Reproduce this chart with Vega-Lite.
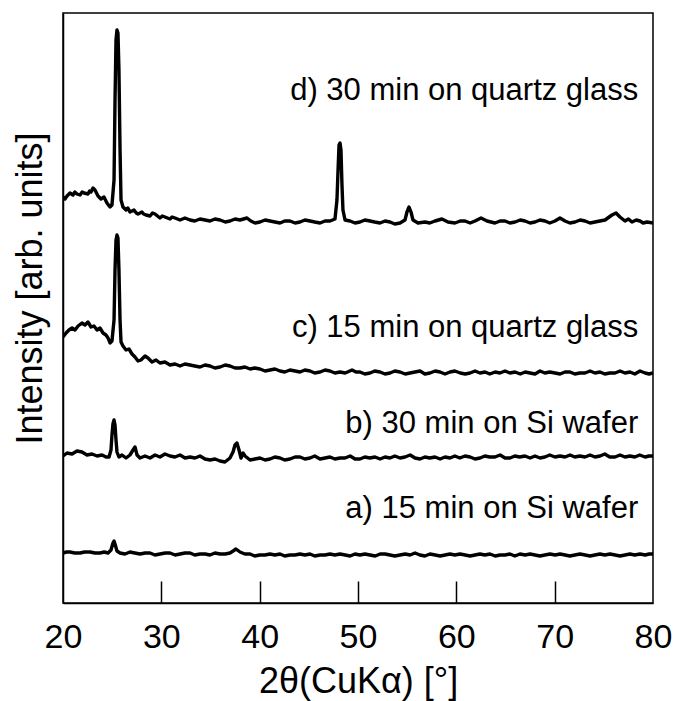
{
  "$schema": "https://vega.github.io/schema/vega-lite/v6.json",
  "width": 590,
  "height": 590,
  "autosize": "none",
  "padding": {"left": 63, "top": 13, "right": 21, "bottom": 98},
  "background": "white",
  "config": {
    "font": "Liberation Sans",
    "view": {"stroke": "black", "strokeWidth": 1.5},
    "axis": {"domainColor": "black", "domainWidth": 1.5, "tickColor": "black", "labelColor": "black", "titleColor": "black", "titleFontWeight": "normal", "grid": false}
  },
  "resolve": {"axis": {"x": "independent"}},
  "datasets": {
    "traces": [
      {"s":"d","x":20.00,"y":406},{"s":"d","x":20.20,"y":404},{"s":"d","x":20.41,"y":407},{"s":"d","x":20.71,"y":410},{"s":"d","x":21.02,"y":408},{"s":"d","x":21.20,"y":411},{"s":"d","x":21.42,"y":409},{"s":"d","x":21.73,"y":408},{"s":"d","x":21.95,"y":411},{"s":"d","x":22.14,"y":410},{"s":"d","x":22.54,"y":409},{"s":"d","x":22.70,"y":412},{"s":"d","x":22.85,"y":411},{"s":"d","x":23.05,"y":415},{"s":"d","x":23.25,"y":413},{"s":"d","x":23.56,"y":407},{"s":"d","x":23.86,"y":404},{"s":"d","x":24.17,"y":406},{"s":"d","x":24.47,"y":400},{"s":"d","x":24.78,"y":396},{"s":"d","x":24.98,"y":398},{"s":"d","x":25.19,"y":423},{"s":"d","x":25.29,"y":503},{"s":"d","x":25.39,"y":563},{"s":"d","x":25.49,"y":573},{"s":"d","x":25.59,"y":570},{"s":"d","x":25.69,"y":533},{"s":"d","x":25.80,"y":453},{"s":"d","x":25.90,"y":403},{"s":"d","x":26.10,"y":396},{"s":"d","x":26.41,"y":393},{"s":"d","x":26.60,"y":395},{"s":"d","x":26.81,"y":391},{"s":"d","x":27.22,"y":393},{"s":"d","x":27.45,"y":390},{"s":"d","x":27.63,"y":389},{"s":"d","x":28.03,"y":391},{"s":"d","x":28.20,"y":389},{"s":"d","x":28.44,"y":388},{"s":"d","x":28.85,"y":387},{"s":"d","x":29.10,"y":390},{"s":"d","x":29.36,"y":389},{"s":"d","x":29.86,"y":385},{"s":"d","x":30.10,"y":387},{"s":"d","x":30.37,"y":386},{"s":"d","x":30.88,"y":384},{"s":"d","x":31.10,"y":386},{"s":"d","x":31.39,"y":385},{"s":"d","x":31.90,"y":383},{"s":"d","x":32.40,"y":385},{"s":"d","x":32.92,"y":383},{"s":"d","x":33.40,"y":382},{"s":"d","x":33.93,"y":384},{"s":"d","x":34.45,"y":383},{"s":"d","x":34.95,"y":382},{"s":"d","x":35.45,"y":384},{"s":"d","x":35.97,"y":383},{"s":"d","x":36.50,"y":381},{"s":"d","x":36.98,"y":382},{"s":"d","x":37.50,"y":384},{"s":"d","x":38.00,"y":383},{"s":"d","x":38.71,"y":385},{"s":"d","x":39.10,"y":382},{"s":"d","x":39.53,"y":380},{"s":"d","x":40.03,"y":381},{"s":"d","x":40.55,"y":383},{"s":"d","x":41.05,"y":382},{"s":"d","x":41.55,"y":381},{"s":"d","x":42.07,"y":380},{"s":"d","x":42.55,"y":382},{"s":"d","x":43.08,"y":382},{"s":"d","x":43.60,"y":380},{"s":"d","x":44.10,"y":381},{"s":"d","x":44.60,"y":383},{"s":"d","x":45.12,"y":382},{"s":"d","x":45.60,"y":381},{"s":"d","x":46.14,"y":380},{"s":"d","x":46.65,"y":382},{"s":"d","x":47.15,"y":382},{"s":"d","x":47.66,"y":384},{"s":"d","x":47.86,"y":403},{"s":"d","x":47.97,"y":433},{"s":"d","x":48.07,"y":458},{"s":"d","x":48.17,"y":460},{"s":"d","x":48.27,"y":453},{"s":"d","x":48.37,"y":418},{"s":"d","x":48.47,"y":393},{"s":"d","x":48.68,"y":383},{"s":"d","x":49.19,"y":382},{"s":"d","x":49.70,"y":380},{"s":"d","x":50.20,"y":381},{"s":"d","x":50.70,"y":383},{"s":"d","x":51.22,"y":382},{"s":"d","x":51.70,"y":381},{"s":"d","x":52.24,"y":380},{"s":"d","x":52.75,"y":382},{"s":"d","x":53.25,"y":381},{"s":"d","x":53.75,"y":379},{"s":"d","x":54.27,"y":380},{"s":"d","x":54.78,"y":383},{"s":"d","x":54.98,"y":391},{"s":"d","x":55.19,"y":396},{"s":"d","x":55.39,"y":391},{"s":"d","x":55.59,"y":383},{"s":"d","x":56.10,"y":380},{"s":"d","x":56.81,"y":381},{"s":"d","x":57.30,"y":380},{"s":"d","x":57.83,"y":382},{"s":"d","x":58.54,"y":384},{"s":"d","x":59.15,"y":381},{"s":"d","x":59.86,"y":380},{"s":"d","x":60.40,"y":382},{"s":"d","x":60.88,"y":382},{"s":"d","x":61.40,"y":380},{"s":"d","x":61.90,"y":382},{"s":"d","x":62.51,"y":385},{"s":"d","x":63.12,"y":382},{"s":"d","x":63.93,"y":380},{"s":"d","x":64.45,"y":382},{"s":"d","x":64.95,"y":382},{"s":"d","x":65.45,"y":380},{"s":"d","x":65.97,"y":381},{"s":"d","x":66.50,"y":383},{"s":"d","x":66.98,"y":382},{"s":"d","x":67.50,"y":380},{"s":"d","x":68.00,"y":381},{"s":"d","x":68.50,"y":383},{"s":"d","x":69.02,"y":382},{"s":"d","x":69.50,"y":380},{"s":"d","x":70.03,"y":382},{"s":"d","x":70.54,"y":385},{"s":"d","x":71.05,"y":382},{"s":"d","x":71.55,"y":380},{"s":"d","x":72.07,"y":381},{"s":"d","x":72.60,"y":383},{"s":"d","x":73.08,"y":382},{"s":"d","x":73.60,"y":380},{"s":"d","x":74.10,"y":381},{"s":"d","x":74.60,"y":382},{"s":"d","x":75.12,"y":383},{"s":"d","x":75.83,"y":388},{"s":"d","x":76.24,"y":390},{"s":"d","x":76.64,"y":386},{"s":"d","x":77.15,"y":382},{"s":"d","x":77.50,"y":384},{"s":"d","x":77.86,"y":381},{"s":"d","x":78.30,"y":383},{"s":"d","x":78.68,"y":382},{"s":"d","x":79.00,"y":380},{"s":"d","x":79.39,"y":381},{"s":"d","x":80.00,"y":380},

      {"s":"c","x":20.00,"y":266},{"s":"c","x":20.31,"y":270},{"s":"c","x":20.61,"y":273},{"s":"c","x":20.92,"y":275},{"s":"c","x":21.22,"y":273},{"s":"c","x":21.53,"y":277},{"s":"c","x":21.93,"y":280},{"s":"c","x":22.24,"y":278},{"s":"c","x":22.54,"y":281},{"s":"c","x":22.85,"y":276},{"s":"c","x":23.15,"y":277},{"s":"c","x":23.46,"y":273},{"s":"c","x":23.76,"y":275},{"s":"c","x":24.07,"y":270},{"s":"c","x":24.37,"y":268},{"s":"c","x":24.58,"y":265},{"s":"c","x":24.78,"y":260},{"s":"c","x":24.98,"y":262},{"s":"c","x":25.19,"y":283},{"s":"c","x":25.29,"y":333},{"s":"c","x":25.39,"y":363},{"s":"c","x":25.49,"y":368},{"s":"c","x":25.59,"y":365},{"s":"c","x":25.69,"y":333},{"s":"c","x":25.80,"y":283},{"s":"c","x":25.90,"y":261},{"s":"c","x":26.10,"y":257},{"s":"c","x":26.41,"y":253},{"s":"c","x":26.71,"y":254},{"s":"c","x":27.02,"y":249},{"s":"c","x":27.32,"y":246},{"s":"c","x":27.63,"y":242},{"s":"c","x":27.93,"y":243},{"s":"c","x":28.34,"y":247},{"s":"c","x":28.64,"y":245},{"s":"c","x":29.05,"y":241},{"s":"c","x":29.46,"y":243},{"s":"c","x":29.86,"y":240},{"s":"c","x":30.37,"y":241},{"s":"c","x":30.88,"y":238},{"s":"c","x":31.39,"y":239},{"s":"c","x":31.90,"y":237},{"s":"c","x":32.40,"y":239},{"s":"c","x":32.92,"y":238},{"s":"c","x":33.40,"y":237},{"s":"c","x":33.93,"y":236},{"s":"c","x":34.45,"y":238},{"s":"c","x":34.95,"y":237},{"s":"c","x":35.45,"y":235},{"s":"c","x":35.97,"y":236},{"s":"c","x":36.50,"y":238},{"s":"c","x":36.98,"y":237},{"s":"c","x":37.50,"y":235},{"s":"c","x":38.00,"y":235},{"s":"c","x":38.50,"y":236},{"s":"c","x":39.02,"y":234},{"s":"c","x":39.50,"y":235},{"s":"c","x":40.03,"y":234},{"s":"c","x":40.55,"y":232},{"s":"c","x":41.05,"y":233},{"s":"c","x":41.55,"y":234},{"s":"c","x":42.07,"y":232},{"s":"c","x":42.55,"y":231},{"s":"c","x":43.08,"y":233},{"s":"c","x":43.60,"y":232},{"s":"c","x":44.10,"y":231},{"s":"c","x":44.60,"y":233},{"s":"c","x":45.12,"y":232},{"s":"c","x":45.60,"y":230},{"s":"c","x":46.14,"y":231},{"s":"c","x":46.65,"y":233},{"s":"c","x":47.15,"y":232},{"s":"c","x":47.65,"y":230},{"s":"c","x":48.17,"y":231},{"s":"c","x":48.70,"y":230},{"s":"c","x":49.39,"y":233},{"s":"c","x":49.80,"y":231},{"s":"c","x":50.20,"y":231},{"s":"c","x":50.70,"y":229},{"s":"c","x":51.22,"y":230},{"s":"c","x":51.70,"y":232},{"s":"c","x":52.24,"y":231},{"s":"c","x":52.75,"y":229},{"s":"c","x":53.25,"y":230},{"s":"c","x":53.75,"y":232},{"s":"c","x":54.27,"y":231},{"s":"c","x":54.80,"y":229},{"s":"c","x":55.29,"y":230},{"s":"c","x":55.80,"y":231},{"s":"c","x":56.31,"y":232},{"s":"c","x":56.80,"y":229},{"s":"c","x":57.32,"y":230},{"s":"c","x":57.85,"y":232},{"s":"c","x":58.34,"y":231},{"s":"c","x":58.85,"y":229},{"s":"c","x":59.35,"y":231},{"s":"c","x":59.86,"y":232},{"s":"c","x":60.40,"y":230},{"s":"c","x":60.90,"y":229},{"s":"c","x":61.39,"y":230},{"s":"c","x":61.90,"y":232},{"s":"c","x":62.40,"y":230},{"s":"c","x":62.92,"y":231},{"s":"c","x":63.40,"y":229},{"s":"c","x":63.95,"y":231},{"s":"c","x":64.44,"y":230},{"s":"c","x":64.95,"y":232},{"s":"c","x":65.45,"y":230},{"s":"c","x":65.97,"y":231},{"s":"c","x":66.50,"y":229},{"s":"c","x":67.00,"y":231},{"s":"c","x":67.49,"y":230},{"s":"c","x":68.00,"y":229},{"s":"c","x":68.51,"y":232},{"s":"c","x":69.00,"y":230},{"s":"c","x":69.50,"y":231},{"s":"c","x":70.03,"y":230},{"s":"c","x":70.55,"y":229},{"s":"c","x":71.05,"y":231},{"s":"c","x":71.56,"y":231},{"s":"c","x":72.05,"y":229},{"s":"c","x":72.55,"y":230},{"s":"c","x":73.08,"y":230},{"s":"c","x":73.60,"y":232},{"s":"c","x":74.10,"y":230},{"s":"c","x":74.61,"y":231},{"s":"c","x":75.10,"y":229},{"s":"c","x":75.60,"y":230},{"s":"c","x":76.14,"y":230},{"s":"c","x":76.65,"y":232},{"s":"c","x":77.15,"y":230},{"s":"c","x":77.66,"y":231},{"s":"c","x":78.15,"y":229},{"s":"c","x":78.68,"y":232},{"s":"c","x":79.20,"y":230},{"s":"c","x":79.60,"y":229},{"s":"c","x":80.00,"y":230},

      {"s":"b","x":20.00,"y":147},{"s":"b","x":20.41,"y":150},{"s":"b","x":20.92,"y":149},{"s":"b","x":21.42,"y":152},{"s":"b","x":21.93,"y":151},{"s":"b","x":22.44,"y":148},{"s":"b","x":22.95,"y":149},{"s":"b","x":23.46,"y":147},{"s":"b","x":23.97,"y":148},{"s":"b","x":24.37,"y":146},{"s":"b","x":24.68,"y":146},{"s":"b","x":24.88,"y":153},{"s":"b","x":24.98,"y":168},{"s":"b","x":25.08,"y":179},{"s":"b","x":25.19,"y":183},{"s":"b","x":25.29,"y":178},{"s":"b","x":25.39,"y":163},{"s":"b","x":25.49,"y":151},{"s":"b","x":25.69,"y":146},{"s":"b","x":26.00,"y":148},{"s":"b","x":26.41,"y":145},{"s":"b","x":26.81,"y":148},{"s":"b","x":27.12,"y":153},{"s":"b","x":27.32,"y":156},{"s":"b","x":27.53,"y":148},{"s":"b","x":27.83,"y":145},{"s":"b","x":28.34,"y":147},{"s":"b","x":28.85,"y":145},{"s":"b","x":29.36,"y":148},{"s":"b","x":29.86,"y":146},{"s":"b","x":30.37,"y":149},{"s":"b","x":30.88,"y":147},{"s":"b","x":31.39,"y":146},{"s":"b","x":31.90,"y":148},{"s":"b","x":32.41,"y":145},{"s":"b","x":32.92,"y":146},{"s":"b","x":33.42,"y":145},{"s":"b","x":33.93,"y":147},{"s":"b","x":34.44,"y":144},{"s":"b","x":34.95,"y":143},{"s":"b","x":35.46,"y":144},{"s":"b","x":35.97,"y":142},{"s":"b","x":36.47,"y":141},{"s":"b","x":36.98,"y":145},{"s":"b","x":37.29,"y":151},{"s":"b","x":37.49,"y":158},{"s":"b","x":37.69,"y":160},{"s":"b","x":37.90,"y":153},{"s":"b","x":38.10,"y":145},{"s":"b","x":38.31,"y":150},{"s":"b","x":38.51,"y":147},{"s":"b","x":39.02,"y":143},{"s":"b","x":39.53,"y":144},{"s":"b","x":40.03,"y":145},{"s":"b","x":40.55,"y":143},{"s":"b","x":41.05,"y":144},{"s":"b","x":41.55,"y":146},{"s":"b","x":42.07,"y":145},{"s":"b","x":42.55,"y":143},{"s":"b","x":43.08,"y":144},{"s":"b","x":43.60,"y":146},{"s":"b","x":44.10,"y":146},{"s":"b","x":44.60,"y":144},{"s":"b","x":45.12,"y":145},{"s":"b","x":45.60,"y":147},{"s":"b","x":46.14,"y":144},{"s":"b","x":46.65,"y":145},{"s":"b","x":47.15,"y":146},{"s":"b","x":47.65,"y":144},{"s":"b","x":48.17,"y":145},{"s":"b","x":48.68,"y":145},{"s":"b","x":49.20,"y":147},{"s":"b","x":49.70,"y":144},{"s":"b","x":50.20,"y":144},{"s":"b","x":50.70,"y":146},{"s":"b","x":51.20,"y":145},{"s":"b","x":51.73,"y":146},{"s":"b","x":52.25,"y":144},{"s":"b","x":52.75,"y":146},{"s":"b","x":53.25,"y":145},{"s":"b","x":53.75,"y":147},{"s":"b","x":54.27,"y":145},{"s":"b","x":54.78,"y":146},{"s":"b","x":55.30,"y":148},{"s":"b","x":55.80,"y":145},{"s":"b","x":56.31,"y":144},{"s":"b","x":56.80,"y":146},{"s":"b","x":57.30,"y":145},{"s":"b","x":57.83,"y":146},{"s":"b","x":58.35,"y":144},{"s":"b","x":58.85,"y":146},{"s":"b","x":59.36,"y":145},{"s":"b","x":59.85,"y":147},{"s":"b","x":60.35,"y":145},{"s":"b","x":60.88,"y":147},{"s":"b","x":61.40,"y":146},{"s":"b","x":61.90,"y":144},{"s":"b","x":62.41,"y":145},{"s":"b","x":62.90,"y":147},{"s":"b","x":63.40,"y":146},{"s":"b","x":63.93,"y":146},{"s":"b","x":64.45,"y":148},{"s":"b","x":64.95,"y":145},{"s":"b","x":65.46,"y":145},{"s":"b","x":65.95,"y":147},{"s":"b","x":66.45,"y":146},{"s":"b","x":66.98,"y":147},{"s":"b","x":67.50,"y":145},{"s":"b","x":68.00,"y":147},{"s":"b","x":68.51,"y":145},{"s":"b","x":69.00,"y":146},{"s":"b","x":69.50,"y":148},{"s":"b","x":70.03,"y":146},{"s":"b","x":70.55,"y":147},{"s":"b","x":71.05,"y":146},{"s":"b","x":71.56,"y":148},{"s":"b","x":72.05,"y":146},{"s":"b","x":72.55,"y":147},{"s":"b","x":73.08,"y":146},{"s":"b","x":73.60,"y":148},{"s":"b","x":74.10,"y":146},{"s":"b","x":74.61,"y":147},{"s":"b","x":75.10,"y":149},{"s":"b","x":75.60,"y":146},{"s":"b","x":76.14,"y":146},{"s":"b","x":76.65,"y":148},{"s":"b","x":77.15,"y":146},{"s":"b","x":77.66,"y":147},{"s":"b","x":78.15,"y":146},{"s":"b","x":78.65,"y":148},{"s":"b","x":79.19,"y":146},{"s":"b","x":79.60,"y":147},{"s":"b","x":80.00,"y":147},

      {"s":"a","x":20.00,"y":50},{"s":"a","x":20.35,"y":51},{"s":"a","x":20.71,"y":51},{"s":"a","x":21.20,"y":50},{"s":"a","x":21.73,"y":50},{"s":"a","x":22.20,"y":51},{"s":"a","x":22.75,"y":51},{"s":"a","x":23.25,"y":50},{"s":"a","x":23.76,"y":50},{"s":"a","x":24.20,"y":51},{"s":"a","x":24.58,"y":50},{"s":"a","x":24.88,"y":53},{"s":"a","x":25.08,"y":60},{"s":"a","x":25.19,"y":62},{"s":"a","x":25.29,"y":59},{"s":"a","x":25.49,"y":52},{"s":"a","x":25.80,"y":50},{"s":"a","x":26.30,"y":49},{"s":"a","x":26.81,"y":51},{"s":"a","x":27.30,"y":50},{"s":"a","x":27.83,"y":49},{"s":"a","x":28.35,"y":50},{"s":"a","x":28.85,"y":50},{"s":"a","x":29.35,"y":48},{"s":"a","x":29.86,"y":49},{"s":"a","x":30.40,"y":50},{"s":"a","x":30.88,"y":50},{"s":"a","x":31.40,"y":48},{"s":"a","x":31.90,"y":49},{"s":"a","x":32.40,"y":50},{"s":"a","x":32.92,"y":50},{"s":"a","x":33.40,"y":48},{"s":"a","x":33.93,"y":49},{"s":"a","x":34.45,"y":49},{"s":"a","x":34.95,"y":48},{"s":"a","x":35.45,"y":50},{"s":"a","x":35.97,"y":49},{"s":"a","x":36.50,"y":49},{"s":"a","x":36.98,"y":50},{"s":"a","x":37.30,"y":52},{"s":"a","x":37.59,"y":54},{"s":"a","x":38.00,"y":51},{"s":"a","x":38.50,"y":49},{"s":"a","x":39.02,"y":49},{"s":"a","x":39.50,"y":47},{"s":"a","x":40.00,"y":48},{"s":"a","x":40.54,"y":48},{"s":"a","x":41.05,"y":49},{"s":"a","x":41.55,"y":48},{"s":"a","x":42.07,"y":49},{"s":"a","x":42.55,"y":47},{"s":"a","x":43.08,"y":48},{"s":"a","x":43.59,"y":48},{"s":"a","x":44.10,"y":49},{"s":"a","x":44.60,"y":48},{"s":"a","x":45.12,"y":49},{"s":"a","x":45.60,"y":47},{"s":"a","x":46.14,"y":48},{"s":"a","x":46.64,"y":48},{"s":"a","x":47.15,"y":49},{"s":"a","x":47.65,"y":48},{"s":"a","x":48.17,"y":49},{"s":"a","x":48.70,"y":48},{"s":"a","x":49.20,"y":47},{"s":"a","x":49.69,"y":49},{"s":"a","x":50.20,"y":48},{"s":"a","x":50.70,"y":49},{"s":"a","x":51.22,"y":48},{"s":"a","x":51.75,"y":47},{"s":"a","x":52.25,"y":49},{"s":"a","x":52.75,"y":49},{"s":"a","x":53.25,"y":48},{"s":"a","x":53.75,"y":47},{"s":"a","x":54.27,"y":48},{"s":"a","x":54.80,"y":49},{"s":"a","x":55.30,"y":48},{"s":"a","x":55.80,"y":50},{"s":"a","x":56.30,"y":48},{"s":"a","x":56.80,"y":47},{"s":"a","x":57.32,"y":49},{"s":"a","x":57.85,"y":48},{"s":"a","x":58.35,"y":47},{"s":"a","x":58.85,"y":48},{"s":"a","x":59.35,"y":49},{"s":"a","x":59.85,"y":48},{"s":"a","x":60.37,"y":49},{"s":"a","x":60.90,"y":48},{"s":"a","x":61.40,"y":47},{"s":"a","x":61.90,"y":48},{"s":"a","x":62.40,"y":49},{"s":"a","x":62.90,"y":48},{"s":"a","x":63.42,"y":49},{"s":"a","x":63.95,"y":47},{"s":"a","x":64.45,"y":48},{"s":"a","x":64.95,"y":48},{"s":"a","x":65.45,"y":49},{"s":"a","x":65.95,"y":47},{"s":"a","x":66.47,"y":49},{"s":"a","x":67.00,"y":48},{"s":"a","x":67.50,"y":49},{"s":"a","x":68.00,"y":48},{"s":"a","x":68.50,"y":47},{"s":"a","x":69.00,"y":48},{"s":"a","x":69.53,"y":49},{"s":"a","x":70.05,"y":48},{"s":"a","x":70.55,"y":49},{"s":"a","x":71.05,"y":48},{"s":"a","x":71.55,"y":47},{"s":"a","x":72.05,"y":48},{"s":"a","x":72.58,"y":49},{"s":"a","x":73.10,"y":48},{"s":"a","x":73.60,"y":47},{"s":"a","x":74.10,"y":48},{"s":"a","x":74.60,"y":49},{"s":"a","x":75.10,"y":48},{"s":"a","x":75.63,"y":49},{"s":"a","x":76.15,"y":48},{"s":"a","x":76.65,"y":47},{"s":"a","x":77.15,"y":48},{"s":"a","x":77.65,"y":49},{"s":"a","x":78.15,"y":48},{"s":"a","x":78.68,"y":49},{"s":"a","x":79.20,"y":48},{"s":"a","x":79.60,"y":49},{"s":"a","x":80.00,"y":49}
    ],
    "labels": [
      {"x": 78.5, "y": 503, "t": "d) 30 min on quartz glass"},
      {"x": 78.5, "y": 266, "t": "c) 15 min on quartz glass"},
      {"x": 78.5, "y": 170, "t": "b) 30 min on Si wafer"},
      {"x": 78.5, "y": 85, "t": "a) 15 min on Si wafer"}
    ]
  },
  "layer": [
    {
      "data": {"name": "traces"},
      "mark": {"type": "line", "color": "black", "strokeWidth": 3.4, "strokeJoin": "round", "clip": true},
      "encoding": {
        "x": {
          "field": "x", "type": "quantitative",
          "scale": {"domain": [20, 80], "nice": false, "zero": false},
          "axis": {
            "orient": "bottom",
            "title": null,
            "labels": false,
            "domain": false,
            "ticks": true,
            "values": [30, 40, 50, 60, 70],
            "tickSize": 22,
            "tickWidth": 1.5,
            "offset": -22
          }
        },
        "y": {
          "field": "y", "type": "quantitative",
          "scale": {"domain": [0, 590], "nice": false, "zero": false},
          "axis": {
            "title": "Intensity [arb. units]",
            "labels": false,
            "ticks": false,
            "titleFontSize": 36,
            "titleAngle": 270,
            "titleBaseline": "middle",
            "titleAlign": "center",
            "titleX": -33,
            "titleY": 275
          }
        },
        "detail": {"field": "s"}
      }
    },
    {
      "data": {"name": "labels"},
      "mark": {"type": "text", "align": "right", "baseline": "alphabetic", "fontSize": 31, "color": "black", "font": "Liberation Sans"},
      "encoding": {
        "x": {
          "field": "x", "type": "quantitative",
          "axis": {
            "orient": "bottom",
            "title": "2θ(CuKα) [°]",
            "values": [20, 30, 40, 50, 60, 70, 80],
            "ticks": false,
            "labelFontSize": 34,
            "labelPadding": 17,
            "labelFlush": false,
            "titleFontSize": 36,
            "titleBaseline": "alphabetic",
            "titleY": 89
          }
        },
        "y": {
          "field": "y", "type": "quantitative",
          "axis": {
            "title": "Intensity [arb. units]",
            "labels": false,
            "ticks": false,
            "titleFontSize": 36,
            "titleAngle": 270,
            "titleBaseline": "middle",
            "titleAlign": "center",
            "titleX": -33,
            "titleY": 275
          }
        },
        "text": {"field": "t"}
      }
    }
  ]
}
